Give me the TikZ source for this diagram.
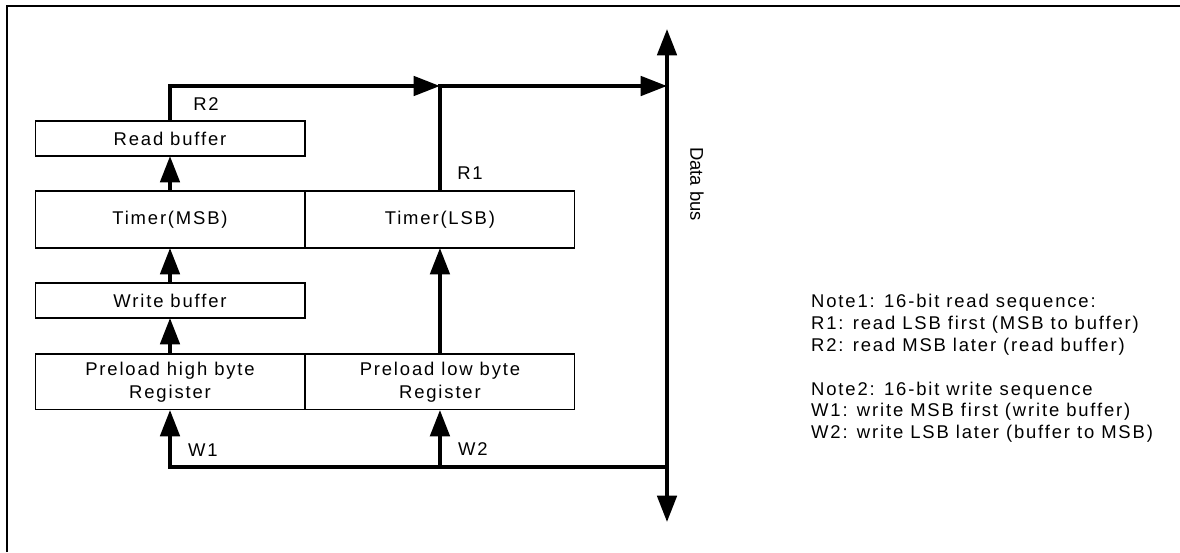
\documentclass[tikz,border=0pt]{standalone}
\usepackage{fontspec}
\setmainfont{Liberation Sans}
\newfontfamily\spaced[LetterSpace=10]{Liberation Sans}
\usetikzlibrary{arrows.meta, positioning, calc}

\begin{document}
\begin{tikzpicture}[x=0.02cm, y=-0.02cm,
    reg/.style={draw, line width=0.6pt, outer sep=0pt, inner sep=0pt, minimum width=5.4cm, align=center, font=\spaced\fontsize{10.5}{13}\selectfont},
    bus/.style={line width=2.2pt, -{Triangle[length=15pt, width=11pt]}},
    lbl/.style={font=\spaced\fontsize{10.5}{12}\selectfont},
]
\useasboundingbox (0,0) rectangle (1180,552);
\draw[line width=1.2pt] (7,552) -- (7,6) -- (1180,6);

% registers
\node[reg, minimum height=1.14cm] (tmsb) at (170,219.5) {Timer(MSB)};
\node[reg, minimum height=1.14cm, right=0pt of tmsb] (tlsb) {Timer(LSB)};
\node[reg, minimum height=0.7cm, above=0.7cm of tmsb] (rbuf) {Read buffer};
\node[reg, minimum height=0.7cm, below=0.7cm of tmsb] (wbuf) {Write buffer};
\node[reg, minimum height=1.12cm, below=0.72cm of wbuf] (phigh) {Preload high byte\\Register};
\node[reg, minimum height=1.12cm, right=0pt of phigh] (plow) {Preload low byte\\Register};

% data bus
\coordinate (dtop) at (667,29);
\coordinate (dbot) at (667,522);
\coordinate (rjoin) at (tlsb.north |- 0,86);
\coordinate (wjoin) at (667,467);
\draw[line width=2.2pt, {Triangle[length=15pt, width=11pt]}-{Triangle[length=15pt, width=11pt]}] (dbot) -- (dtop);
\node[font=\fontsize{10.5}{12}\selectfont, rotate=-90] (dlbl) at (697,184) {Data bus};

% read path
\draw[bus] (tmsb.north) -- (rbuf.south);
\draw[bus] (rbuf.north) |- (rjoin);
\draw[bus] (tlsb.north) -- (rjoin) -- (rjoin -| dtop);

% write path
\draw[bus] (phigh.north) -- (wbuf.south);
\draw[bus] (wbuf.north) -- (tmsb.south);
\draw[bus] (plow.north) -- (tlsb.south);
\draw[bus] (wjoin) -| (phigh.south);
\draw[bus] (wjoin -| plow.south) -- (plow.south);

\node[lbl] (r2) at (206,104) {R2};
\node[lbl] (r1) at (470,173) {R1};
\node[lbl] (w1) at (203,450) {W1};
\node[lbl] (w2) at (473,449) {W2};

% notes
\node[lbl, anchor=west, align=left, font=\spaced\fontsize{10.5}{12.4}\selectfont] (notes) at (805,368.5)
  {Note1: 16-bit read sequence:\\
   R1: read LSB first (MSB to buffer)\\
   R2: read MSB later (read buffer)\\[12.4pt]
   Note2: 16-bit write sequence\\
   W1: write MSB first (write buffer)\\
   W2: write LSB later (buffer to MSB)};
\end{tikzpicture}
\end{document}
